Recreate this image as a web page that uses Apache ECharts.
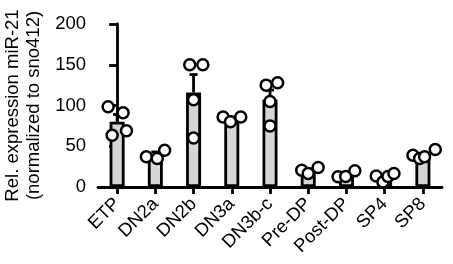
<!DOCTYPE html>
<html>
<head>
<meta charset="utf-8">
<script src="https://cdn.jsdelivr.net/npm/echarts@6/dist/echarts.min.js"></script>
<style>
  html, body { margin: 0; padding: 0; background: #fff; }
  #chart { width: 453px; height: 264px; }
</style>
</head>
<body>
<div id="chart"></div>
<script>
var chartDom = document.getElementById('chart');
var chart = echarts.init(chartDom, null, { renderer: 'canvas' });

// categories and bar values (mean), top of the error bar
var categories = ['ETP', 'DN2a', 'DN2b', 'DN3a', 'DN3b-c', 'Pre-DP', 'Post-DP', 'SP4', 'SP8'];
var means = [80, 39, 116, 84, 107, 20, 15, 11, 39];
var errTops = [89, 43, 138, 86, 119, 22, 17, 13, 41];
var yTicks = [0, 50, 100, 150, 200];

// individual replicate values and their horizontal scatter (in category widths)
var pointValues = [
    [98.5, 91, 63.5, 69],
    [37, 35, 45],
    [150, 150, 107, 60],
    [86, 80, 86],
    [125, 128, 105, 75],
    [20.5, 16.5, 24],
    [12.5, 13, 20],
    [13.5, 6, 13, 16.5],
    [39, 35, 37, 46]
];
var pointJitter = [
    [-0.235, 0.157, -0.13, 0.245],
    [-0.235, 0.05, 0.243],
    [-0.1, 0.243, 0, 0],
    [-0.227, -0.034, 0.235],
    [-0.1, 0.2, 0, 0],
    [-0.17, 0, 0.26],
    [-0.22, -0.02, 0.22],
    [-0.22, -0.045, 0.086, 0.243],
    [-0.26, -0.086, 0.044, 0.324]
];

var scatterData = [];
pointValues.forEach(function (vals, i) {
    vals.forEach(function (v, j) {
        scatterData.push([i + pointJitter[i][j], v]);
    });
});

var errData = categories.map(function (c, i) { return [i, means[i], errTops[i]]; });

var font = 'Liberation Sans, Arial, sans-serif';

var option = {
    animation: false,
    grid: { left: 98, right: 11, top: 24, bottom: 77, containLabel: false, outerBoundsMode: 'none' },
    xAxis: [{
        type: 'category',
        data: categories,
        axisLine: { lineStyle: { color: '#000', width: 2.8 } },
        axisTick: { show: true, alignWithLabel: true, length: 7, lineStyle: { color: '#000', width: 2.8 } },
        axisLabel: { rotate: 45, interval: 0, margin: 14, color: '#000', fontSize: 18.5, fontFamily: font }
    }, {
        type: 'value',
        min: -0.5,
        max: categories.length - 0.5,
        show: false
    }],
    yAxis: {
        type: 'value',
        min: 0,
        max: 200,
        interval: 50,
        name: 'Rel. expression miR-21\n(normalized to sno412)',
        nameLocation: 'middle',
        nameGap: 53,
        nameTextStyle: { color: '#000', fontSize: 18.5, fontFamily: font, lineHeight: 21 },
        axisLine: { show: true, lineStyle: { color: '#000', width: 2.8 } },
        axisTick: { show: true, length: 8, lineStyle: { color: '#000', width: 2.8 } },
        axisLabel: {
            margin: 12, color: '#000', fontSize: 18.5, fontFamily: font,
            formatter: function (v) { return yTicks.indexOf(v) >= 0 ? String(v) : ''; }
        },
        splitLine: { show: false }
    },
    series: [{
        type: 'bar',
        data: means,
        barWidth: 15,
        z: 1,
        itemStyle: { color: '#d6d6d6', borderColor: '#000', borderWidth: 2.8 }
    }, {
        type: 'custom',
        data: errData,
        z: 2,
        renderItem: function (params, api) {
            var base = api.coord([api.value(0), api.value(1)]);
            var top = api.coord([api.value(0), api.value(2)]);
            var cap = 4;
            var st = { stroke: '#000', lineWidth: 2.8 };
            return {
                type: 'group',
                children: [
                    { type: 'line', shape: { x1: base[0], y1: base[1], x2: top[0], y2: top[1] }, style: st },
                    { type: 'line', shape: { x1: top[0] - cap, y1: top[1], x2: top[0] + cap, y2: top[1] }, style: st }
                ]
            };
        }
    }, {
        type: 'scatter',
        xAxisIndex: 1,
        data: scatterData,
        symbol: 'circle',
        symbolSize: 11,
        z: 3,
        itemStyle: { color: '#fff', borderColor: '#000', borderWidth: 2.5, opacity: 1 }
    }]
};

chart.setOption(option);
window.addEventListener('resize', function () {
    chart.resize();
});
</script>
</body>
</html>
